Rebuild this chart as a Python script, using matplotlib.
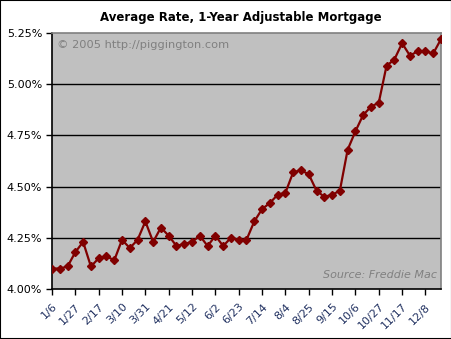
"""Average 1-year ARM rate, weekly 2005 (piggington.com style chart)."""

import matplotlib
matplotlib.use("Agg")
import matplotlib.pyplot as plt
from matplotlib.patches import Rectangle

TITLE = "Average Rate, 1-Year Adjustable Mortgage"

# weekly rates, 1/6 .. 12/22 (51 weeks)
rates = [4.10, 4.10, 4.11, 4.18, 4.23, 4.11, 4.15, 4.16, 4.14, 4.24,
         4.20, 4.24, 4.33, 4.23, 4.30, 4.26, 4.21, 4.22, 4.23, 4.26,
         4.21, 4.26, 4.21, 4.25, 4.24, 4.24, 4.33, 4.39, 4.42, 4.46,
         4.47, 4.57, 4.58, 4.56, 4.48, 4.45, 4.46, 4.48, 4.68, 4.77,
         4.85, 4.89, 4.91, 5.09, 5.12, 5.20, 5.14, 5.16, 5.16, 5.15,
         5.22]
tick_weeks = [0, 3, 6, 9, 12, 15, 18, 21, 24, 27, 30, 33, 36, 39, 42, 45, 48]
tick_labels = ["1/6", "1/27", "2/17", "3/10", "3/31", "4/21", "5/12", "6/2",
               "6/23", "7/14", "8/4", "8/25", "9/15", "10/6", "10/27",
               "11/17", "12/8"]
y_ticks = [4.00, 4.25, 4.50, 4.75, 5.00, 5.25]

fig = plt.figure(figsize=(4.52, 3.39), dpi=100)
fig.patch.set_facecolor("white")
ax = fig.add_axes([52 / 452, 50 / 339, 389 / 452, 256 / 339])
ax.set_facecolor("#C0C0C0")

for y in y_ticks[1:-1]:
    ax.axhline(y, color="black", lw=1.0, zorder=1)

ax.plot(range(len(rates)), rates, color="#800000", lw=1.6, marker="D",
        markersize=3.6, zorder=3)

ax.set_xlim(0, len(rates) - 1)
ax.set_ylim(y_ticks[0], y_ticks[-1])
ax.set_yticks(y_ticks)
ax.set_yticklabels([f"{v:.2f}%" for v in y_ticks])
ax.set_xticks(tick_weeks)
ax.set_xticklabels(tick_labels, rotation=45, ha="right", va="top",
                   rotation_mode="anchor", color="#203060")
ax.tick_params(axis="both", direction="out", length=4, width=1,
               labelsize=8, pad=3)
ax.tick_params(axis="x", pad=5)

for side in ("left", "bottom"):
    ax.spines[side].set_color("black")
    ax.spines[side].set_linewidth(1.2)
for side in ("top", "right"):
    ax.spines[side].set_color("#808080")
    ax.spines[side].set_linewidth(1.2)

ax.text(0.012, 0.955, "\u00a9 2005 http://piggington.com", transform=ax.transAxes,
        ha="left", va="center", fontsize=8.2, color="#808080")
ax.text(0.99, 0.055, "Source: Freddie Mac", transform=ax.transAxes,
        ha="right", va="center", fontsize=8, color="#808080", style="italic")

fig.text(241 / 452, 1 - 17 / 339, TITLE, ha="center", va="center",
         fontsize=8.5, fontweight="bold", color="black")

fig.patches.append(Rectangle((0, 0), 1, 1, transform=fig.transFigure,
                             fill=False, edgecolor="black", lw=1.5))

fig.savefig("out.png", dpi=100)
